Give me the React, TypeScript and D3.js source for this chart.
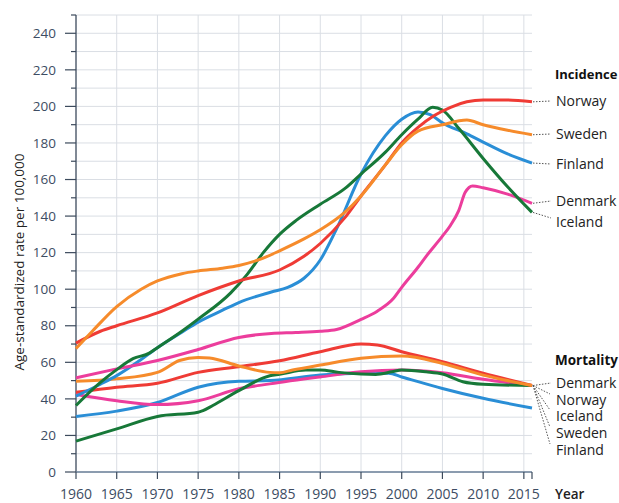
import * as d3 from "d3";

type Pt = [number, number];

// Incidence (per 100,000, age-standardized)
const norwayInc: Pt[] = [[1960, 70.5], [1963, 77], [1965, 80], [1970, 87], [1975, 96.5], [1980, 104.5], [1985, 110.5], [1988, 118], [1990, 125], [1993, 139], [1995, 151], [1998, 168], [2000, 180], [2002, 188.5], [2004, 195], [2006, 199.5], [2008, 202.5], [2010, 203.5], [2013, 203.5], [2016, 202.5]];
const swedenInc: Pt[] = [[1960, 67.5], [1962, 77], [1965, 90.5], [1968, 100], [1970, 104.5], [1973, 108.5], [1975, 110], [1978, 111.5], [1980, 113], [1983, 117], [1985, 121], [1988, 127.5], [1990, 132.5], [1993, 142], [1995, 151], [1998, 168], [2000, 179], [2002, 186.5], [2005, 190], [2008, 192.5], [2010, 190], [2013, 187], [2016, 184.5]];
const finlandInc: Pt[] = [[1960, 41.5], [1963, 48], [1965, 52.7], [1968, 61.5], [1970, 68], [1973, 76.5], [1975, 82], [1978, 88.5], [1980, 92.7], [1984, 98.5], [1986, 101], [1988, 106], [1990, 116], [1992, 133], [1995, 163], [1998, 184], [2000, 193], [2002, 197], [2003.5, 195.5], [2005, 191], [2008, 185], [2010, 180.5], [2013, 174], [2016, 169]];
const denmarkInc: Pt[] = [[1960, 51.5], [1965, 56.4], [1970, 61], [1975, 67], [1980, 73.6], [1984, 75.8], [1987, 76.3], [1990, 77], [1992, 78], [1995, 83.5], [1997, 88], [1999, 95], [2000, 101], [2002, 112], [2003, 118], [2005, 129], [2006, 135], [2007, 143], [2007.8, 153], [2008.7, 156.5], [2010, 155.5], [2013, 152], [2016, 147]];
const icelandInc: Pt[] = [[1960, 36.4], [1963, 49], [1965, 56], [1967, 62], [1969, 65], [1970, 68], [1973, 77], [1975, 83.6], [1979, 98], [1981, 108], [1983, 120], [1985, 130], [1987, 137.5], [1990, 146.5], [1993, 155], [1995, 163], [1998, 175], [2000, 184.5], [2002, 193], [2003.8, 199.5], [2005, 198], [2007, 188], [2010, 171.5], [2013, 156], [2016, 142]];

// Mortality
const norwayMort: Pt[] = [[1960, 43.6], [1965, 46.4], [1970, 48.5], [1975, 54.5], [1980, 57.6], [1985, 60.9], [1990, 65.8], [1995, 70], [1997, 69.5], [2000, 65.8], [2005, 60.3], [2010, 54], [2016, 47.3]];
const swedenMort: Pt[] = [[1960, 49.6], [1965, 51], [1970, 54.5], [1972.7, 61], [1975, 62.7], [1976.4, 62.4], [1980, 58], [1983.8, 54.5], [1985, 54.3], [1986.6, 55.8], [1990, 58.5], [1995, 62.2], [2000, 63.4], [2005, 59.4], [2010, 53], [2016, 47.3]];
const denmarkMort: Pt[] = [[1960, 42.4], [1965, 39], [1970, 36.9], [1975, 39], [1980, 45.5], [1983.8, 48.2], [1990, 52], [1995, 54.8], [2000, 55.8], [2005, 54.3], [2010, 50.7], [2016, 47.3]];
const icelandMort: Pt[] = [[1960, 16.9], [1965, 23.6], [1970, 30.4], [1975, 32.7], [1975.6, 33.6], [1976.8, 36.4], [1980, 44.5], [1983.8, 52.7], [1985, 53.5], [1988.2, 55.8], [1990, 55.8], [1992.3, 54.5], [1995, 53.6], [1996.8, 53.4], [1998.8, 54.8], [2000, 55.8], [2003, 54.8], [2005, 53.6], [2007.5, 49.4], [2010, 48], [2016, 47.3]];
const finlandMort: Pt[] = [[1960, 30.4], [1965, 33.3], [1970, 38], [1975, 46.4], [1980, 49.6], [1983.8, 50], [1990, 53], [1995, 54], [1998.4, 54], [2000, 52], [2005, 45.7], [2010, 40.3], [2016, 35]];

const xTicks = d3.range(1960, 2016, 5);
const incidenceLabels = ["Norway", "Sweden", "Finland", "Denmark", "Iceland"];
const mortalityLabels = ["Denmark", "Norway", "Iceland", "Sweden", "Finland"];

const COLORS = {
  Norway: "#ef3b35",
  Sweden: "#f68b2b",
  Finland: "#2a8ed6",
  Denmark: "#ec3d9c",
  Iceland: "#177838",
};

// drawing order (last on top)
const series: { data: Pt[]; color: string }[] = [
  { data: finlandMort, color: COLORS.Finland },
  { data: denmarkMort, color: COLORS.Denmark },
  { data: icelandMort, color: COLORS.Iceland },
  { data: norwayMort, color: COLORS.Norway },
  { data: swedenMort, color: COLORS.Sweden },
  { data: finlandInc, color: COLORS.Finland },
  { data: denmarkInc, color: COLORS.Denmark },
  { data: icelandInc, color: COLORS.Iceland },
  { data: norwayInc, color: COLORS.Norway },
  { data: swedenInc, color: COLORS.Sweden },
];

const FONT = "'Open Sans', 'Noto Sans', sans-serif";

export default function App() {
  const width = 619;
  const height = 503;
  const x = d3.scaleLinear().domain([1960, 2016]).range([76, 532]);
  const y = d3.scaleLinear().domain([0, 250]).range([472, 15]);
  const line = d3
    .line<Pt>()
    .x((d) => x(d[0]))
    .y((d) => y(d[1]))
    .curve(d3.curveMonotoneX);

  const incLabelY = [101, 134, 164, 201, 222];
  const incStart = [norwayInc, swedenInc, finlandInc, denmarkInc, icelandInc].map(
    (s) => y(s[s.length - 1][1])
  );
  const mortLabelY = [383, 400, 416, 433, 450];
  const mortStartY = y(47.3);

  return (
    <svg
      width={width}
      height={height}
      style={{ position: "absolute", left: 0, top: 0, background: "#fff" }}
      fontFamily={FONT}
    >
      {/* grid */}
      <g stroke="#dadee4" strokeWidth={1}>
        {d3.range(0, 251, 10).map((v) => (
          <line key={"h" + v} x1={76} x2={532} y1={y(v)} y2={y(v)} />
        ))}
        {xTicks.slice(1).map((t) => (
          <line key={"v" + t} x1={x(t)} x2={x(t)} y1={y(250)} y2={y(0)} />
        ))}
      </g>

      {/* y axis */}
      <line x1={76} x2={76} y1={y(250)} y2={y(0)} stroke="#3c4a5c" strokeWidth={1.3} />
      {d3.range(0, 251, 10).map((v) => (
        <line
          key={"yt" + v}
          x1={v % 20 === 0 ? 65 : 71}
          x2={76}
          y1={y(v)}
          y2={y(v)}
          stroke="#3c4a5c"
          strokeWidth={1.2}
        />
      ))}
      {d3.range(0, 241, 20).map((v) => (
        <text
          key={"yl" + v}
          x={56}
          y={y(v)}
          dy="0.35em"
          textAnchor="end"
          fontSize={13.5}
          fill="#3d4d63"
        >
          {v}
        </text>
      ))}

      {/* x axis */}
      <line x1={76} x2={532} y1={y(0)} y2={y(0)} stroke="#6b8098" strokeWidth={1.3} />
      {[...xTicks, 2016].map((t) => (
        <line
          key={"xt" + t}
          x1={x(t)}
          x2={x(t)}
          y1={y(0)}
          y2={y(0) + 7}
          stroke="#3c4a5c"
          strokeWidth={1.2}
        />
      ))}
      {xTicks.map((t) => (
        <text
          key={"xl" + t}
          x={x(t)}
          y={499}
          textAnchor="middle"
          fontSize={14}
          fill="#3d4d63"
        >
          {t}
        </text>
      ))}
      <text x={555} y={499} fontSize={13.5} fontWeight={600} fill="#222">
        Year
      </text>

      <text
        transform="translate(24,262) rotate(-90)"
        textAnchor="middle"
        fontSize={13.5}
        fill="#222"
      >
        Age-standardized rate per 100,000
      </text>

      {/* series */}
      {series.map((s, i) => (
        <path
          key={i}
          d={line(s.data) ?? ""}
          fill="none"
          stroke={s.color}
          strokeWidth={3}
          strokeLinejoin="round"
        />
      ))}

      {/* incidence labels */}
      <text x={555} y={74} dy="0.35em" fontSize={13} fontWeight={700} fill="#111">
        Incidence
      </text>
      {incidenceLabels.map((name, i) => (
        <g key={"il" + name}>
          <line
            x1={533}
            y1={incStart[i]}
            x2={551}
            y2={incLabelY[i] - (i === 4 ? 4 : 0)}
            stroke="#555"
            strokeWidth={1}
            strokeDasharray="1.5,1.5"
          />
          <text x={556} y={incLabelY[i]} dy="0.35em" fontSize={14} fill="#222">
            {name}
          </text>
        </g>
      ))}

      {/* mortality labels */}
      <text x={555} y={360} dy="0.35em" fontSize={13.5} fontWeight={700} fill="#111">
        Mortality
      </text>
      {mortalityLabels.map((name, i) => (
        <g key={"ml" + name}>
          <line
            x1={533}
            y1={mortStartY}
            x2={i === 0 ? 551 : 550}
            y2={i === 0 ? mortLabelY[i] : mortLabelY[i] - 6}
            stroke="#555"
            strokeWidth={1}
            strokeDasharray="1.5,1.5"
          />
          <text x={556} y={mortLabelY[i]} dy="0.35em" fontSize={14} fill="#222">
            {name}
          </text>
        </g>
      ))}
    </svg>
  );
}
